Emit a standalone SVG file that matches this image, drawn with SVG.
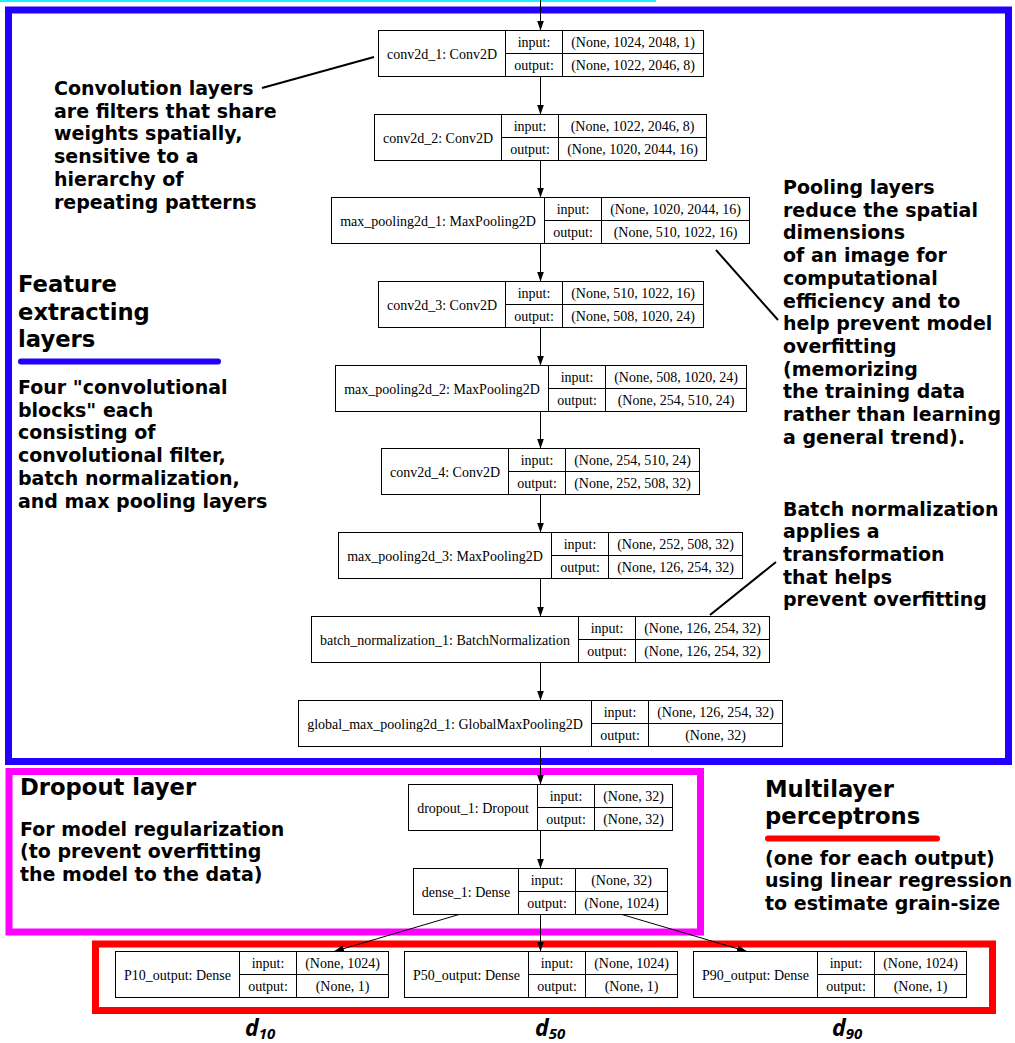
<svg xmlns="http://www.w3.org/2000/svg" width="1015" height="1043" viewBox="0 0 1015 1043">
<style>
.node rect{fill:#fff;stroke:#000;stroke-width:1}
.node line{stroke:#000;stroke-width:1}
.t{font-family:"Liberation Serif","Times New Roman",serif;font-size:14px;fill:#000;text-anchor:middle}
.ann{font-family:"DejaVu Sans",Verdana,sans-serif;font-weight:bold;font-size:19px;fill:#000}
.head{font-size:22.7px}
.edge{stroke:#000;stroke-width:1;fill:none;marker-end:url(#arr)}
.ptr{stroke:#000;stroke-width:2}
.frame{fill:none;stroke-width:7}
.dl{font-family:"Open Sans","Liberation Sans",sans-serif;font-weight:bold;font-style:italic;font-size:23px;fill:#000}
.dl tspan{font-size:15px}
</style>
<defs>
<marker id="arr" markerUnits="userSpaceOnUse" markerWidth="10" markerHeight="8" refX="10" refY="3.5" orient="auto">
<path d="M0,0 L10,3.5 L0,7 z" fill="#000"/>
</marker>
</defs>
<rect width="1015" height="1043" fill="#fff"/>
<rect x="0" y="0" width="656" height="2" fill="#1ef2ff"/>
<g id="frames">
<rect class="frame" x="8.5" y="10" width="1000" height="751.5" stroke="#2200ff"/>
<rect class="frame" x="9" y="771.5" width="691.5" height="160.5" stroke="#ff00ff"/>
<rect class="frame" x="95.5" y="944" width="897" height="66.5" stroke="#ff0000"/>
</g>
<g id="connectors">
<line class="edge" x1="540.5" y1="0" x2="540.5" y2="30.5"/>
<line class="edge" x1="540.5" y1="76.5" x2="540.5" y2="114.5"/>
<line class="edge" x1="540.5" y1="160.5" x2="540.5" y2="197.5"/>
<line class="edge" x1="540.5" y1="243.5" x2="540.5" y2="281.5"/>
<line class="edge" x1="540.5" y1="327.5" x2="540.5" y2="365.5"/>
<line class="edge" x1="540.5" y1="411.5" x2="540.5" y2="448.5"/>
<line class="edge" x1="540.5" y1="494.5" x2="540.5" y2="532.5"/>
<line class="edge" x1="540.5" y1="578.5" x2="540.5" y2="616.5"/>
<line class="edge" x1="540.5" y1="662.5" x2="540.5" y2="700.5"/>
<line class="edge" x1="540.5" y1="746.5" x2="540.5" y2="784.5"/>
<line class="edge" x1="540.5" y1="830.5" x2="540.5" y2="868.5"/>
<line class="edge" x1="540.5" y1="914.5" x2="540.5" y2="951.5"/>
<line class="edge" x1="459" y1="914.5" x2="334" y2="951.5"/>
<line class="edge" x1="622" y1="914.5" x2="747" y2="951.5"/>
</g>
<g id="pointers">
<line class="ptr" x1="262" y1="88" x2="374" y2="57"/>
<line class="ptr" x1="716" y1="250" x2="778" y2="320"/>
<line class="ptr" x1="776" y1="562" x2="710" y2="615"/>
</g>
<g id="conv2d_1" class="node">
<rect x="378.5" y="30.5" width="325" height="46"/>
<line x1="505.5" y1="30.5" x2="505.5" y2="76.5"/><line x1="562.5" y1="30.5" x2="562.5" y2="76.5"/><line x1="505.5" y1="53.5" x2="703.5" y2="53.5"/>
<text class="t" x="442" y="58.5">conv2d_1: Conv2D</text>
<text class="t" x="534" y="46.5">input:</text><text class="t" x="534" y="69.5">output:</text>
<text class="t" x="633" y="46.5">(None, 1024, 2048, 1)</text><text class="t" x="633" y="69.5">(None, 1022, 2046, 8)</text>
</g>
<g id="conv2d_2" class="node">
<rect x="374.5" y="114.5" width="332" height="46"/>
<line x1="501.5" y1="114.5" x2="501.5" y2="160.5"/><line x1="558.5" y1="114.5" x2="558.5" y2="160.5"/><line x1="501.5" y1="137.5" x2="706.5" y2="137.5"/>
<text class="t" x="438" y="142.5">conv2d_2: Conv2D</text>
<text class="t" x="530" y="130.5">input:</text><text class="t" x="530" y="153.5">output:</text>
<text class="t" x="632.5" y="130.5">(None, 1022, 2046, 8)</text><text class="t" x="632.5" y="153.5">(None, 1020, 2044, 16)</text>
</g>
<g id="max_pooling2d_1" class="node">
<rect x="331.5" y="197.5" width="418" height="46"/>
<line x1="544.5" y1="197.5" x2="544.5" y2="243.5"/><line x1="601.5" y1="197.5" x2="601.5" y2="243.5"/><line x1="544.5" y1="220.5" x2="749.5" y2="220.5"/>
<text class="t" x="438" y="225.5">max_pooling2d_1: MaxPooling2D</text>
<text class="t" x="573" y="213.5">input:</text><text class="t" x="573" y="236.5">output:</text>
<text class="t" x="675.5" y="213.5">(None, 1020, 2044, 16)</text><text class="t" x="675.5" y="236.5">(None, 510, 1022, 16)</text>
</g>
<g id="conv2d_3" class="node">
<rect x="378.5" y="281.5" width="325" height="46"/>
<line x1="505.5" y1="281.5" x2="505.5" y2="327.5"/><line x1="562.5" y1="281.5" x2="562.5" y2="327.5"/><line x1="505.5" y1="304.5" x2="703.5" y2="304.5"/>
<text class="t" x="442" y="309.5">conv2d_3: Conv2D</text>
<text class="t" x="534" y="297.5">input:</text><text class="t" x="534" y="320.5">output:</text>
<text class="t" x="633" y="297.5">(None, 510, 1022, 16)</text><text class="t" x="633" y="320.5">(None, 508, 1020, 24)</text>
</g>
<g id="max_pooling2d_2" class="node">
<rect x="335.5" y="365.5" width="411" height="46"/>
<line x1="548.5" y1="365.5" x2="548.5" y2="411.5"/><line x1="605.5" y1="365.5" x2="605.5" y2="411.5"/><line x1="548.5" y1="388.5" x2="746.5" y2="388.5"/>
<text class="t" x="442" y="393.5">max_pooling2d_2: MaxPooling2D</text>
<text class="t" x="577" y="381.5">input:</text><text class="t" x="577" y="404.5">output:</text>
<text class="t" x="676" y="381.5">(None, 508, 1020, 24)</text><text class="t" x="676" y="404.5">(None, 254, 510, 24)</text>
</g>
<g id="conv2d_4" class="node">
<rect x="381.5" y="448.5" width="318" height="46"/>
<line x1="508.5" y1="448.5" x2="508.5" y2="494.5"/><line x1="565.5" y1="448.5" x2="565.5" y2="494.5"/><line x1="508.5" y1="471.5" x2="699.5" y2="471.5"/>
<text class="t" x="445" y="476.5">conv2d_4: Conv2D</text>
<text class="t" x="537" y="464.5">input:</text><text class="t" x="537" y="487.5">output:</text>
<text class="t" x="632.5" y="464.5">(None, 254, 510, 24)</text><text class="t" x="632.5" y="487.5">(None, 252, 508, 32)</text>
</g>
<g id="max_pooling2d_3" class="node">
<rect x="338.5" y="532.5" width="404" height="46"/>
<line x1="551.5" y1="532.5" x2="551.5" y2="578.5"/><line x1="608.5" y1="532.5" x2="608.5" y2="578.5"/><line x1="551.5" y1="555.5" x2="742.5" y2="555.5"/>
<text class="t" x="445" y="560.5">max_pooling2d_3: MaxPooling2D</text>
<text class="t" x="580" y="548.5">input:</text><text class="t" x="580" y="571.5">output:</text>
<text class="t" x="675.5" y="548.5">(None, 252, 508, 32)</text><text class="t" x="675.5" y="571.5">(None, 126, 254, 32)</text>
</g>
<g id="batch_normalization_1" class="node">
<rect x="311.5" y="616.5" width="458" height="46"/>
<line x1="578.5" y1="616.5" x2="578.5" y2="662.5"/><line x1="635.5" y1="616.5" x2="635.5" y2="662.5"/><line x1="578.5" y1="639.5" x2="769.5" y2="639.5"/>
<text class="t" x="445" y="644.5">batch_normalization_1: BatchNormalization</text>
<text class="t" x="607" y="632.5">input:</text><text class="t" x="607" y="655.5">output:</text>
<text class="t" x="702.5" y="632.5">(None, 126, 254, 32)</text><text class="t" x="702.5" y="655.5">(None, 126, 254, 32)</text>
</g>
<g id="global_max_pooling2d_1" class="node">
<rect x="298.5" y="700.5" width="484" height="46"/>
<line x1="591.5" y1="700.5" x2="591.5" y2="746.5"/><line x1="648.5" y1="700.5" x2="648.5" y2="746.5"/><line x1="591.5" y1="723.5" x2="782.5" y2="723.5"/>
<text class="t" x="445" y="728.5">global_max_pooling2d_1: GlobalMaxPooling2D</text>
<text class="t" x="620" y="716.5">input:</text><text class="t" x="620" y="739.5">output:</text>
<text class="t" x="715.5" y="716.5">(None, 126, 254, 32)</text><text class="t" x="715.5" y="739.5">(None, 32)</text>
</g>
<g id="dropout_1" class="node">
<rect x="408.5" y="784.5" width="264" height="46"/>
<line x1="537.5" y1="784.5" x2="537.5" y2="830.5"/><line x1="594.5" y1="784.5" x2="594.5" y2="830.5"/><line x1="537.5" y1="807.5" x2="672.5" y2="807.5"/>
<text class="t" x="473" y="812.5">dropout_1: Dropout</text>
<text class="t" x="566" y="800.5">input:</text><text class="t" x="566" y="823.5">output:</text>
<text class="t" x="633.5" y="800.5">(None, 32)</text><text class="t" x="633.5" y="823.5">(None, 32)</text>
</g>
<g id="dense_1" class="node">
<rect x="413.5" y="868.5" width="254" height="46"/>
<line x1="518.5" y1="868.5" x2="518.5" y2="914.5"/><line x1="575.5" y1="868.5" x2="575.5" y2="914.5"/><line x1="518.5" y1="891.5" x2="667.5" y2="891.5"/>
<text class="t" x="466" y="896.5">dense_1: Dense</text>
<text class="t" x="547" y="884.5">input:</text><text class="t" x="547" y="907.5">output:</text>
<text class="t" x="621.5" y="884.5">(None, 32)</text><text class="t" x="621.5" y="907.5">(None, 1024)</text>
</g>
<g id="P10_output" class="node">
<rect x="115.5" y="951.5" width="273" height="46"/>
<line x1="239.5" y1="951.5" x2="239.5" y2="997.5"/><line x1="296.5" y1="951.5" x2="296.5" y2="997.5"/><line x1="239.5" y1="974.5" x2="388.5" y2="974.5"/>
<text class="t" x="177.5" y="979.5">P10_output: Dense</text>
<text class="t" x="268" y="967.5">input:</text><text class="t" x="268" y="990.5">output:</text>
<text class="t" x="342.5" y="967.5">(None, 1024)</text><text class="t" x="342.5" y="990.5">(None, 1)</text>
</g>
<g id="P50_output" class="node">
<rect x="404.5" y="951.5" width="273" height="46"/>
<line x1="528.5" y1="951.5" x2="528.5" y2="997.5"/><line x1="585.5" y1="951.5" x2="585.5" y2="997.5"/><line x1="528.5" y1="974.5" x2="677.5" y2="974.5"/>
<text class="t" x="466.5" y="979.5">P50_output: Dense</text>
<text class="t" x="557" y="967.5">input:</text><text class="t" x="557" y="990.5">output:</text>
<text class="t" x="631.5" y="967.5">(None, 1024)</text><text class="t" x="631.5" y="990.5">(None, 1)</text>
</g>
<g id="P90_output" class="node">
<rect x="693.5" y="951.5" width="273" height="46"/>
<line x1="817.5" y1="951.5" x2="817.5" y2="997.5"/><line x1="874.5" y1="951.5" x2="874.5" y2="997.5"/><line x1="817.5" y1="974.5" x2="966.5" y2="974.5"/>
<text class="t" x="755.5" y="979.5">P90_output: Dense</text>
<text class="t" x="846" y="967.5">input:</text><text class="t" x="846" y="990.5">output:</text>
<text class="t" x="920.5" y="967.5">(None, 1024)</text><text class="t" x="920.5" y="990.5">(None, 1)</text>
</g>
<g id="annotations">
<text class="ann" x="54" y="95">Convolution layers</text>
<text class="ann" x="54" y="117.7">are filters that share</text>
<text class="ann" x="54" y="140.4">weights spatially,</text>
<text class="ann" x="54" y="163.1">sensitive to a</text>
<text class="ann" x="54" y="185.8">hierarchy of</text>
<text class="ann" x="54" y="208.5">repeating patterns</text>
<text class="ann head" x="18" y="292">Feature</text>
<text class="ann head" x="18" y="319.5">extracting</text>
<text class="ann head" x="18" y="347">layers</text>
<line x1="21" y1="361.5" x2="218" y2="361.5" stroke="#2200ff" stroke-width="6" stroke-linecap="round"/>
<text class="ann" x="18" y="394">Four "convolutional</text>
<text class="ann" x="18" y="416.7">blocks" each</text>
<text class="ann" x="18" y="439.4">consisting of</text>
<text class="ann" x="18" y="462.1">convolutional filter,</text>
<text class="ann" x="18" y="484.8">batch normalization,</text>
<text class="ann" x="18" y="507.5">and max pooling layers</text>
<text class="ann" x="783" y="194">Pooling layers</text>
<text class="ann" x="783" y="216.7">reduce the spatial</text>
<text class="ann" x="783" y="239.4">dimensions</text>
<text class="ann" x="783" y="262.1">of an image for</text>
<text class="ann" x="783" y="284.8">computational</text>
<text class="ann" x="783" y="307.5">efficiency and to</text>
<text class="ann" x="783" y="330.2">help prevent model</text>
<text class="ann" x="783" y="352.9">overfitting</text>
<text class="ann" x="783" y="375.6">(memorizing</text>
<text class="ann" x="783" y="398.3">the training data</text>
<text class="ann" x="783" y="421">rather than learning</text>
<text class="ann" x="783" y="443.7">a general trend).</text>
<text class="ann" x="783" y="515.5">Batch normalization</text>
<text class="ann" x="783" y="538.2">applies a</text>
<text class="ann" x="783" y="560.9">transformation</text>
<text class="ann" x="783" y="583.6">that helps</text>
<text class="ann" x="783" y="606.3">prevent overfitting</text>
<text class="ann head" x="20" y="795">Dropout layer</text>
<text class="ann" x="20" y="835.5">For model regularization</text>
<text class="ann" x="20" y="858.2">(to prevent overfitting</text>
<text class="ann" x="20" y="880.9">the model to the data)</text>
<text class="ann head" x="765" y="797">Multilayer</text>
<text class="ann head" x="765" y="824">perceptrons</text>
<line x1="768" y1="838.5" x2="937" y2="838.5" stroke="#ff0000" stroke-width="6" stroke-linecap="round"/>
<text class="ann" x="765" y="864.5">(one for each output)</text>
<text class="ann" x="765" y="887.2">using linear regression</text>
<text class="ann" x="765" y="909.9">to estimate grain-size</text>
<text class="dl" x="245" y="1036">d<tspan dy="3">10</tspan></text>
<text class="dl" x="535" y="1036">d<tspan dy="3">50</tspan></text>
<text class="dl" x="832" y="1036">d<tspan dy="3">90</tspan></text>
</g>
</svg>
